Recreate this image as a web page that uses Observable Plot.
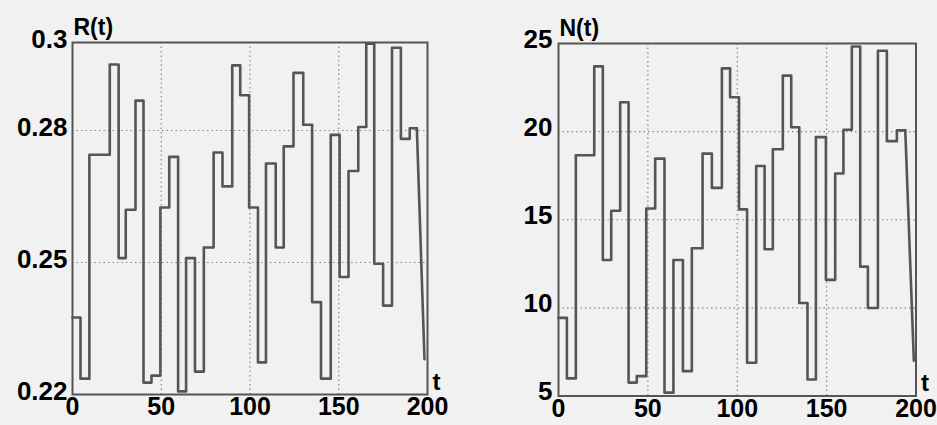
<!DOCTYPE html>
<html>
<head>
<meta charset="utf-8">
<script src="https://cdn.jsdelivr.net/npm/d3@7"></script>
<script src="https://cdn.jsdelivr.net/npm/@observablehq/plot@0.6"></script>
<style>
  html, body { margin: 0; padding: 0; background: #f1f1f1; }
  #wrap { position: relative; width: 937px; height: 425px; overflow: hidden; }
  #left { position: absolute; left: 0; top: 0; }
  #right { position: absolute; left: 465px; top: 0; }
</style>
</head>
<body>
<div id="wrap"><div id="left"></div><div id="right"></div></div>
<script>
// ---- Left panel: R(t) ----
const tR = [0, 4.5, 9.5, 21, 26, 30, 35.5, 40, 44.5, 49.5, 54.5, 59.5, 64, 69, 74, 79.5, 84.5, 90, 94.5, 99.5,
            104.5, 109, 114.5, 119, 124.5, 130, 135, 140, 145.5, 150.5, 155.5, 161, 165.5, 170, 175, 180, 185, 190, 194];
const R  = [0.2375, 0.2236, 0.2745, 0.295, 0.251, 0.262, 0.2868, 0.2227, 0.2243, 0.2625, 0.274, 0.2207, 0.251, 0.2252, 0.2534, 0.275, 0.2673, 0.2948, 0.288, 0.2625,
            0.2273, 0.2725, 0.2534, 0.2764, 0.2931, 0.2813, 0.241, 0.2236, 0.279, 0.2467, 0.2708, 0.2808, 0.2997, 0.2497, 0.2402, 0.2988, 0.2781, 0.2805, 0.2805];
const tailTR = [194, 198.3];
const tailR  = [0.2805, 0.228];
const yTicksR = [0.22, 0.25, 0.28, 0.3];
const yLabelsR = ["0.22", "0.25", "0.28", "0.3"];

// ---- Right panel: N(t) ----
const tN = [0, 4.7, 9.7, 20, 24.8, 29.5, 34.5, 39.2, 43.8, 49.1, 54.1, 59.3, 64.3, 69.6, 74.6, 80.6, 85.8, 91.4, 96, 101,
            105.5, 110.6, 115.3, 119.9, 125.5, 130.2, 134.7, 139.3, 144, 149.6, 154.8, 159.4, 164.1, 168.8, 173.1, 178.7, 183.7, 189.3, 194];
const N  = [9.43, 6.0, 18.66, 23.7, 12.72, 15.51, 21.67, 5.76, 6.13, 15.64, 18.47, 5.19, 12.72, 6.41, 13.38, 18.75, 16.81, 23.59, 21.95, 15.59,
            6.89, 18.05, 13.33, 19.0, 23.18, 20.25, 10.28, 5.94, 19.69, 11.59, 17.62, 20.11, 24.83, 12.34, 9.99, 24.59, 19.46, 20.07, 20.07];
const tailTN = [194, 198.8];
const tailN  = [20.07, 7.0];
const yTicksN = [5, 10, 15, 20, 25];
const yLabelsN = ["5", "10", "15", "20", "25"];

const xTicks = [0, 50, 100, 150, 200];
const xLabels = ["0", "50", "100", "150", "200"];
const xGrid = [50, 100, 150];

const lineColor = "#555";
const fontFamily = "'Liberation Sans', Arial, Helvetica, sans-serif";

function panel({t, v, tailT, tailV, yDomain, yTicks, yLabels, yGrid, yLabel, width, mL, mR, mT, mB, yPad, yDy}) {
  const data = t.map((d, i) => ({t: d, v: v[i]}));
  const tail = tailT.map((d, i) => ({t: d, v: tailV[i]}));
  return Plot.plot({
    width, height: 425,
    marginLeft: mL, marginRight: mR, marginTop: mT, marginBottom: mB,
    style: {fontFamily, fontSize: "25px", fontWeight: "bold", background: "transparent", color: "#000", overflow: "visible"},
    x: {domain: [0, 200]},
    y: {domain: yDomain},
    marks: [
      Plot.ruleX(xGrid, {stroke: "#888", strokeDasharray: "1.5,3", strokeWidth: 1.2}),
      Plot.ruleY(yGrid, {stroke: "#888", strokeDasharray: "1.5,3", strokeWidth: 1.2}),
      Plot.line(data, {x: "t", y: "v", curve: "step-after", stroke: lineColor, strokeWidth: 2.6}),
      Plot.line(tail, {x: "t", y: "v", stroke: lineColor, strokeWidth: 2.6}),
      Plot.frame({stroke: "#555", strokeWidth: 2}),
      Plot.axisX({ticks: xTicks, tickFormat: (d) => xLabels[xTicks.indexOf(d)], tickSize: 0, tickPadding: 3, label: null, fontSize: 25, fontWeight: "bold"}),
      Plot.axisY({ticks: yTicks, tickFormat: (d) => yLabels[yTicks.indexOf(d)], tickSize: 0, tickPadding: yPad, dy: yDy, label: null, fontSize: 26, fontWeight: "bold"}),
      Plot.text([yLabel], {frameAnchor: "top-left", text: d => d, textAnchor: "start", lineAnchor: "bottom", dx: 1, dy: -8, fontSize: 23, fontWeight: "bold"}),
      Plot.text(["t"], {frameAnchor: "bottom-right", text: d => d, textAnchor: "start", lineAnchor: "bottom", dx: 5, dy: -5, fontSize: 24, fontWeight: "bold"})
    ]
  });
}

document.getElementById("left").append(panel({
  t: tR, v: R, tailT: tailTR, tailV: tailR,
  yDomain: [0.22, 0.3], yTicks: yTicksR, yLabels: yLabelsR, yGrid: [0.25, 0.28],
  yLabel: "R(t)", width: 465, mL: 72, mR: 38, mT: 42, mB: 31, yPad: 5, yDy: -3
}));
document.getElementById("right").append(panel({
  t: tN, v: N, tailT: tailTN, tailV: tailN,
  yDomain: [5, 25], yTicks: yTicksN, yLabels: yLabelsN, yGrid: [10, 15, 20],
  yLabel: "N(t)", width: 472, mL: 93, mR: 21.5, mT: 43, mB: 29.5, yPad: 6, yDy: -4
}));
</script>
</body>
</html>
